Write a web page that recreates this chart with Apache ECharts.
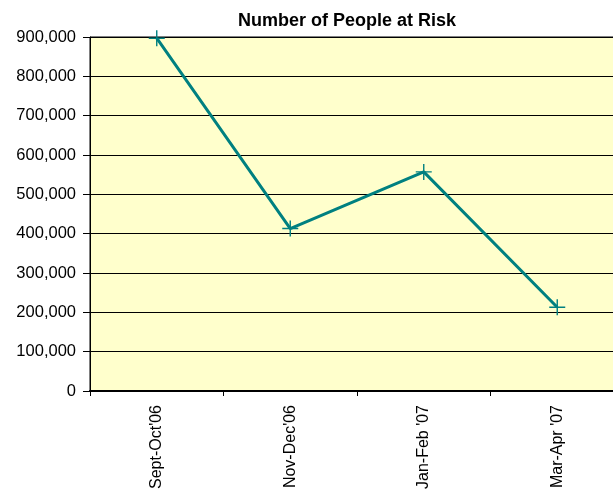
<!DOCTYPE html>
<html>
<head>
<meta charset="utf-8">
<script src="https://cdn.jsdelivr.net/npm/echarts@6/dist/echarts.min.js"></script>
<style>
  html, body { margin: 0; padding: 0; background: #ffffff; overflow: hidden; }
  #frame { width: 613px; height: 498px; overflow: hidden; position: relative; }
  /* The plot runs a little past the right edge of the frame */
  #chart { width: 640px; height: 498px; position: absolute; left: 0; top: 0; }
</style>
</head>
<body>
<div id="frame"><div id="chart"></div></div>
<script>
// Two-month periods and the number of people at risk in each
const periods = ["Sept-Oct'06", "Nov-Dec'06", "Jan-Feb '07", "Mar-Apr '07"];
const peopleAtRisk = [897000, 413000, 557000, 213000];
const yMin = 0;
const yMax = 900000;
const yStep = 100000;

// Thin "+" marker drawn as a filled outline
const plusMarker = 'path://M-8,-0.7H8V0.7H-8Z M-0.7,-8H0.7V8H-0.7Z';

const chart = echarts.init(document.getElementById('chart'), null, { renderer: 'canvas' });

chart.setOption({
  animation: false,
  backgroundColor: '#ffffff',
  title: {
    text: 'Number of People at Risk',
    left: 342,
    top: 7,
    textAlign: 'center',
    textStyle: {
      fontFamily: 'Liberation Sans, Arial, sans-serif',
      fontSize: 18,
      fontWeight: 'bold',
      color: '#000000'
    }
  },
  grid: {
    show: true,
    left: 90,
    top: 37,
    width: 534,
    height: 354,
    backgroundColor: '#FFFFCC',
    borderColor: '#000000',
    borderWidth: 1
  },
  xAxis: {
    type: 'category',
    data: periods,
    boundaryGap: true,
    axisLine: { show: true, lineStyle: { color: '#000000', width: 2 } },
    axisTick: { show: true, length: 5, lineStyle: { color: '#000000', width: 1 } },
    axisLabel: {
      rotate: 90,
      margin: 14,
      interval: 0,
      fontFamily: 'Liberation Sans, Arial, sans-serif',
      fontSize: 16,
      color: '#000000'
    },
    splitLine: { show: false }
  },
  yAxis: {
    type: 'value',
    min: yMin,
    max: yMax,
    interval: yStep,
    axisLine: { show: true, lineStyle: { color: '#000000', width: 1 } },
    axisTick: { show: true, length: 7, lineStyle: { color: '#000000', width: 1 } },
    axisLabel: {
      margin: 14,
      fontFamily: 'Liberation Sans, Arial, sans-serif',
      fontSize: 16.5,
      color: '#000000',
      formatter: function (v) { return v.toLocaleString('en-US'); }
    },
    splitLine: { show: true, lineStyle: { color: '#000000', width: 1 } }
  },
  series: [{
    type: 'line',
    data: peopleAtRisk,
    symbol: plusMarker,
    symbolSize: 16,
    showAllSymbol: true,
    lineStyle: { color: '#008080', width: 3 },
    itemStyle: { color: '#008080', borderWidth: 0 },
    z: 5
  }]
});
</script>
</body>
</html>
